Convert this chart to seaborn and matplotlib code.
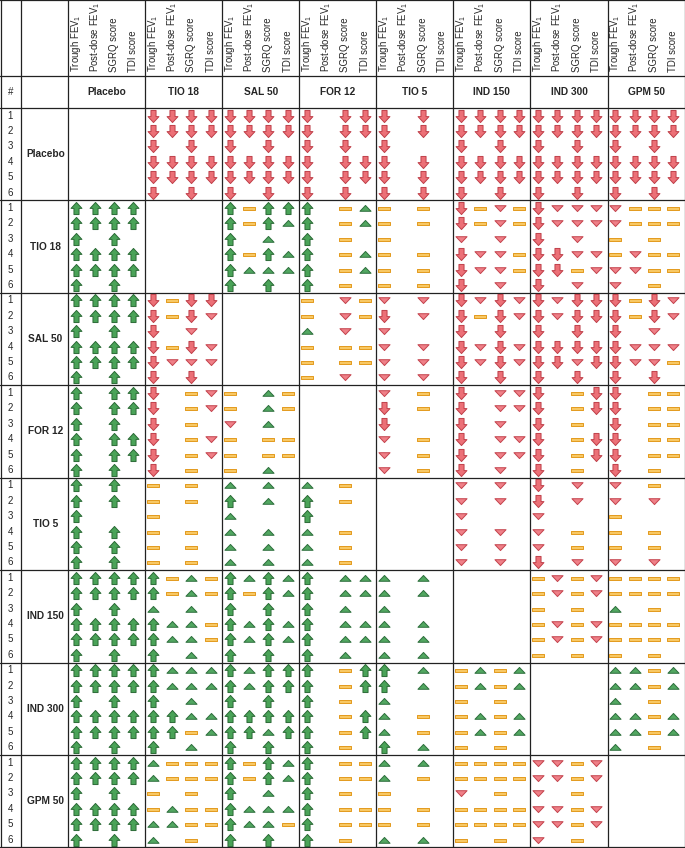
import numpy as np
import pandas as pd
import matplotlib
matplotlib.use("Agg")
import matplotlib.pyplot as plt
from matplotlib.path import Path
import seaborn as sns

sns.set_style("white")
plt.rcParams['font.family'] = ['Liberation Sans', 'DejaVu Sans']
plt.rcParams['mathtext.fontset'] = 'custom'
plt.rcParams['mathtext.rm'] = 'Liberation Sans'
plt.rcParams['mathtext.it'] = 'Liberation Sans:italic'
plt.rcParams['mathtext.bf'] = 'Liberation Sans:bold'

# ---------------- data ----------------
treatments = ["Placebo", "TIO 18", "SAL 50", "FOR 12", "TIO 5", "IND 150", "IND 300", "GPM 50"]
outcomes = ["Trough FEV$_1$", "Post-dose FEV$_1$", "SGRQ score", "TDI score"]
analyses = ["1", "2", "3", "4", "5", "6"]
# symbol codes: U big up arrow, u small up triangle, = no difference,
# d small down triangle, D big down arrow, . not available
# each string: 6 analyses (space separated) x 4 outcomes

row_placebo = [None,
               "DDDD DDDD D.D. DDDD DDDD D.D.",
               "DDDD DDDD D.D. DDDD DDDD D.D.",
               "D.DD D.DD D.D. D.DD D.DD D.D.",
               "D.D. D.D. D... D.D. D.D. D.D.",
               "DDDD DDDD D.D. DDDD DDDD D.D.",
               "DDDD DDDD D.D. DDDD DDDD D.D.",
               "DDDD DDDD D.D. DDDD DDDD D.D."]
row_tio18 = ["UUUU UUUU U.U. UUUU UUUU U.U.",
             None,
             "U=UU U=Uu U.u. U=Uu Uuuu U.U.",
             "U.=u U.=u U.=. U.=u U.=u U.=.",
             "=.=. =.=. =... =.=. =.=. =.=.",
             "D=d= D=d= d.d. Ddd= Ddd= D.d.",
             "Dddd Dddd D.d. DDdd DD=d D.d.",
             "d=== d=== =.=. =d== dd== d.=."]
row_sal50 = ["UUUU UUUU U.U. UUUU UUUU U.U.",
             "D=DD D=Dd D.d. D=Dd Dddd D.D.",
             None,
             "=.d= =.d= u.d. =.== =.== =.d.",
             "d.d. D.d. d... d.d. d.d. d.d.",
             "DdDd D=Dd D.D. DdDd DdDd D.D.",
             "DdDD DdDD D.D. DDDD DDdD D.D.",
             "D=Dd D=Dd D.d. Dddd Ddd= D.D."]
row_for12 = ["U.UU U.UU U.U. U.UU U.UU U.U.",
             "D.=d D.=d D.=. D.=d D.=d D.=.",
             "=.u= =.u= d.u. =.== =.== =.u.",
             None,
             "d.=. D.=. D... d.=. d.=. d.=.",
             "D.dd D.dd D.d. D.dd D.dd D.d.",
             "D.=D D.=D D.=. D.=D D.=D D.=.",
             "D.== D.== D.== D.== D.== D.=."]
row_tio5 = ["U.U. U.U. U... U.U. U.U. U.U.",
            "=.=. =.=. =... =.=. =.=. =.=.",
            "u.u. U.u. u... u.u. u.u. u.u.",
            "u.=. U.=. U... u.=. u.=. u.=.",
            None,
            "d.d. d.d. d... d.d. d.d. d.d.",
            "D.d. D.d. d... d.=. d.=. D.d.",
            "d.=. d.d. =... =.=. =.=. d.d."]
row_ind150 = ["UUUU UUUU U.U. UUUU UUUU U.U.",
              "U=u= U=u= u.u. Uuu= Uuu= U.u.",
              "UuUu U=Uu U.U. UuUu UuUu U.U.",
              "U.uu U.uu U.u. U.uu U.uu U.u.",
              "u.u. u.u. u... u.u. u.u. u.u.",
              None,
              "=d=d =d=d =.=. =d=d =d=d =.=.",
              "==== ==== u.=. ==== ==== =.=."]
row_ind300 = ["UUUU UUUU U.U. UUUU UUUU U.U.",
              "Uuuu Uuuu U.u. UUuu UU=u U.u.",
              "UuUU UuUU U.U. UUUU UUuU U.U.",
              "U.=U U.=U U.=. U.=U U.=U U.=.",
              "U.u. U.u. u... u.=. u.=. U.u.",
              "=u=u =u=u =.=. =u=u =u=u =.=.",
              None,
              "uu=u uu=u u.=. uu=u uu=u u.=."]
row_gpm50 = ["UUUU UUUU U.U. UUUU UUUU U.U.",
             "u=== u=== =.=. =u== uu== u.=.",
             "U=Uu U=Uu U.u. Uuuu Uuu= U.U.",
             "U.== U.== U.=. U.== U.== U.=.",
             "u.u. u.=. =... =.=. =.=. u.u.",
             "==== ==== d.=. ==== ==== =.=.",
             "dd=d dd=d d.=. dd=d dd=d d.=.",
             None]

table_rows = [row_placebo, row_tio18, row_sal50, row_for12,
              row_tio5, row_ind150, row_ind300, row_gpm50]

# ---------------- build long table ----------------
n_out = len(outcomes)
n_an = len(analyses)
recs = []
for r, blocks in enumerate(table_rows):
    for c, code in enumerate(blocks):
        if code is None:
            continue
        for a, line in enumerate(code.split()):
            for o, ch in enumerate(line):
                if ch == '.':
                    continue
                recs.append(dict(row_trt=treatments[r], col_trt=treatments[c],
                                 analysis=analyses[a], outcome=outcomes[o],
                                 symbol=ch,
                                 x=c * n_out + o + 0.4,
                                 y=r * n_an + a + 0.5))
df = pd.DataFrame(recs)

# ---------------- marker shapes ----------------
def arrow(up=True):
    v = np.array([(-0.42, -1.0), (0.42, -1.0), (0.42, 0.02), (0.9, 0.02),
                  (0.0, 1.0), (-0.9, 0.02), (-0.42, 0.02), (-0.42, -1.0)])
    if not up:
        v[:, 1] *= -1
    return Path(v, closed=True)

def tri(up=True):
    v = np.array([(-1.0, -0.5), (1.0, -0.5), (0.0, 0.55), (-1.0, -0.5)])
    if not up:
        v[:, 1] *= -1
    return Path(v, closed=True)

dash = Path(np.array([(-1.0, -0.27), (1.0, -0.27), (1.0, 0.27), (-1.0, 0.27), (-1.0, -0.27)]), closed=True)

styles = {
    'U': (arrow(True), 76, '#4aa358', '#2b6a36'),
    'u': (tri(True), 64, '#52a761', '#2e6f3d'),
    '=': (dash, 64, '#f8c864', '#e39a1e'),
    'd': (tri(False), 64, '#ef8088', '#c4434d'),
    'D': (arrow(False), 76, '#ec7077', '#bf3f49'),
}

# ---------------- figure ----------------
fig = plt.figure(figsize=(6.85, 8.48), dpi=100)
ax = fig.add_axes([0, 0, 1, 1])
nT = len(treatments)
W = nT * n_out
H = nT * n_an
x_left = -3.527
y_top = -7.0
ax.set_xlim(x_left, W + 0.02)
ax.set_ylim(H + 0.04, y_top)
ax.axis('off')

for sym, (mk, s, fc, ec) in styles.items():
    sub = df[df['symbol'] == sym]
    if len(sub) == 0:
        continue
    sns.scatterplot(data=sub, x='x', y='y', marker=mk, s=s, color=fc,
                    edgecolor=ec, linewidth=0.7, ax=ax, legend=False, zorder=3)

# grid lines
lc = '#222222'
lw = 0.9
x_hash = -2.44
y_head = -2.07
for c in range(nT + 1):
    ax.plot([c * n_out, c * n_out], [y_top, H], color=lc, lw=lw, clip_on=False)
for xx in [x_left + 0.03, x_hash]:
    ax.plot([xx, xx], [y_top, H], color=lc, lw=lw, clip_on=False)
for r in range(nT + 1):
    ax.plot([x_left, W], [r * n_an, r * n_an], color=lc, lw=lw, clip_on=False)
for yy in [y_top + 0.03, y_head]:
    ax.plot([x_left, W], [yy, yy], color=lc, lw=lw, clip_on=False)

# texts
ax.text((x_left + x_hash) / 2, (y_head + 0) / 2, "#", ha='center', va='center', fontsize=7)
for c, t in enumerate(treatments):
    ax.text(c * n_out + n_out / 2, (y_head + 0) / 2, t, ha='center', va='center',
            fontsize=7.3, fontweight='bold')
    for o, lab in enumerate(outcomes):
        ax.text(c * n_out + o + 0.4, y_head - 0.25, lab, rotation=90,
                ha='center', va='bottom', fontsize=6.9)
for r, t in enumerate(treatments):
    ax.text((x_hash + 0) / 2 + 0.05, r * n_an + n_an / 2, t, ha='center', va='center',
            fontsize=7.3, fontweight='bold')
    for a, lab in enumerate(analyses):
        ax.text((x_left + x_hash) / 2, r * n_an + a + 0.5, lab, ha='center',
                va='center', fontsize=7)

fig.savefig("out.png", dpi=100, facecolor='white')
